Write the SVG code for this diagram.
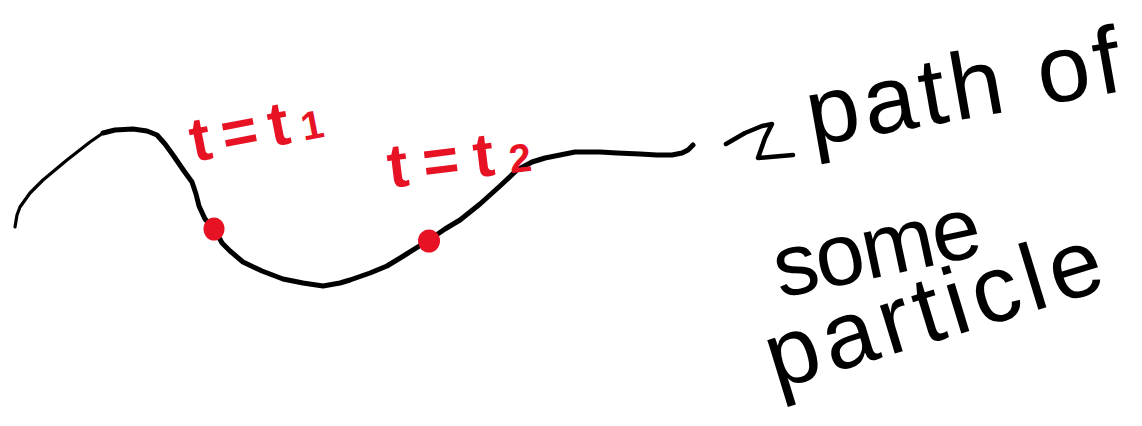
<svg xmlns="http://www.w3.org/2000/svg" width="1142" height="426" viewBox="0 0 1142 426">
<style>
.ink{fill:none;stroke:#000;stroke-linecap:round;stroke-linejoin:round}
.red{fill:#e71224;font-family:"Liberation Sans",Arial,sans-serif;font-weight:bold}
.blk{fill:#000;font-family:"Liberation Sans",Arial,sans-serif}
.dot{fill:#e71224}
</style>
<rect width="1142" height="426" fill="#fff"/>
<g id="path-curve">
<path class="ink" stroke-width="3.2" d="M15,227 L17,215 L20,207 L30,193 L43,180 L67,160 L90,142 L103,133"/>
<path class="ink" stroke-width="5" d="M103,133 L115,130 L133,129 L147,131 L157,135 L165,144 L173,155 L184,171 L192,182 L196,194 L199,206 L205,219 L215,230 L222,243 L230,251 L243,262 L262,271 L283,279 L303,283 L323,286 L340,283 L350,280 L370,273 L387,266 L405,255 L429,240 L445,229 L460,220 L480,204 L500,186 L517,170 L532,162 L545,158 L560,155 L575,152 L600,152 L617,153 L640,154 L657,155 L672,155 L682,153 L688,150 L693,145"/>
</g>
<g id="point-t1">
<ellipse class="dot" cx="214" cy="229" rx="10.5" ry="11.5"/>
<text class="red" x="194" y="162" font-size="62" transform="rotate(-11 194 162)" textLength="134" lengthAdjust="spacing">t=t<tspan font-size="40">1</tspan></text>
</g>
<g id="point-t2">
<ellipse class="dot" cx="429" cy="241" rx="11" ry="11.5"/>
<text class="red" x="390" y="188" font-size="62" transform="rotate(-7 390 188)" textLength="144" lengthAdjust="spacing">t=t<tspan font-size="40">2</tspan></text>
</g>
<g id="connectors">
<path class="ink" stroke-width="4.5" d="M726,144 L745,133 L762,126 L772,124 L765,138 L758,158 L770,157 L793,155"/>
</g>
<g id="label">
<text class="blk" x="812" y="146" font-size="95" transform="rotate(-10 812 146)" textLength="318" lengthAdjust="spacing">path of</text>
<text class="blk" x="780" y="298" font-size="88" transform="rotate(-12 780 298)" textLength="210" lengthAdjust="spacing">some</text>
<text class="blk" x="776" y="390" font-size="95" transform="rotate(-17 776 390)" textLength="348" lengthAdjust="spacing">particle</text>
</g>
</svg>
